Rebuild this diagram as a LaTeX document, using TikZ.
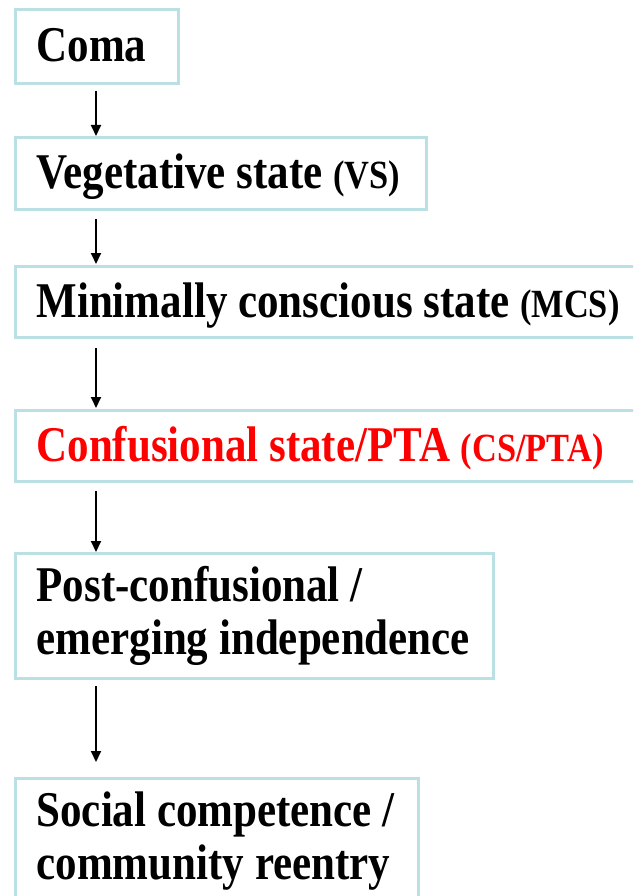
\documentclass[tikz,border=0pt]{standalone}
\usepackage{fontspec}
\setmainfont[FakeStretch=0.86]{Liberation Serif}
\usetikzlibrary{arrows.meta}
\definecolor{boxline}{RGB}{186,224,228}
\definecolor{hot}{RGB}{255,0,0}
\tikzset{
  stagebox/.style={draw=boxline, line width=3pt, anchor=north west, inner xsep=21pt,
    inner ysep=0pt, align=flush left, font=\bfseries\fontsize{50}{53}\selectfont},
  oneline/.style={text height=38pt, text depth=8pt},
  arr/.style={line width=2pt, -{Triangle[length=11pt,width=10pt]}},
}
\newcommand{\paren}[1]{{\fontsize{40}{44}\selectfont #1}}
\begin{document}
\begin{tikzpicture}[x=1pt,y=1pt]
\useasboundingbox (0,0) rectangle (633,-896);
\clip (0,0) rectangle (633,-896);
\node[stagebox, oneline, minimum width=163pt, minimum height=74pt, text width=121pt] (coma) at (14,-8) {\mbox{Coma}};
\node[stagebox, oneline, minimum width=411pt, minimum height=72pt, text width=369pt] (vs) at (14,-136) {\mbox{Vegetative state \paren{(VS)}}};
\node[stagebox, oneline, minimum width=640pt, minimum height=71pt, text width=598pt] (mcs) at (14,-265) {\mbox{Minimally conscious state \paren{(MCS)}}};
\node[stagebox, oneline, minimum width=622pt, minimum height=71pt, text width=580pt, text=hot] (cs) at (14,-409) {\mbox{Confusional state/PTA \paren{(CS/PTA)}}};
\node[stagebox, minimum width=478pt, minimum height=125pt, text width=436pt] (post) at (14,-552) {\mbox{Post-confusional /}\\\mbox{emerging independence}};
\node[stagebox, minimum width=403pt, minimum height=125pt, text width=361pt] (social) at (14,-777) {\mbox{Social competence /}\\\mbox{community reentry}};
\draw[arr] ([xshift=82pt,yshift=-6pt]coma.south west) -- ([xshift=82pt]vs.north west);
\draw[arr] ([xshift=82pt,yshift=-8pt]vs.south west) -- ([xshift=82pt,yshift=1pt]mcs.north west);
\draw[arr] ([xshift=82pt,yshift=-9pt]mcs.south west) -- ([xshift=82pt,yshift=1pt]cs.north west);
\draw[arr] ([xshift=82pt,yshift=-8pt]cs.south west) -- ([xshift=82pt]post.north west);
\draw[arr] ([xshift=82pt,yshift=-6pt]post.south west) -- ([xshift=82pt,yshift=15pt]social.north west);
\end{tikzpicture}
\end{document}
